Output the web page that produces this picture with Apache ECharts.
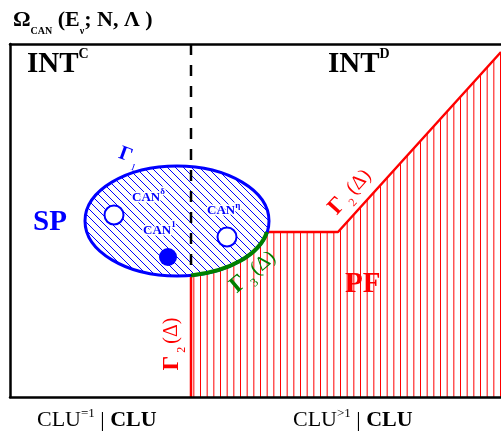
<!DOCTYPE html>
<html>
<head>
<meta charset="utf-8">
<script src="https://cdn.jsdelivr.net/npm/echarts@6/dist/echarts.min.js"></script>
<style>
html, body { margin: 0; padding: 0; background: #fff; }
#container { width: 501px; height: 433px; }
</style>
</head>
<body>
<div id="container"></div>
<script>
// diagram space: x 0..491, y 0..353 (y up)
const xMax = 491;
const yMax = 353;
const spEllipse = [167, 176, 92, 55];          // cx, cy, rx, ry
const pfRegion = [[181, 0], [181, 165], [328, 165], [491, 345], [491, 0]];
const gamma2Lower = [[181, 0], [181, 121.6]];
const gamma2Upper = [[257, 165], [328, 165], [491, 345]];
const gamma3Arc = [[181, 121.6], [257, 165]];
const divider = [[181, 353], [181, 121.6]];
const canOpen = [[104, 182], [217, 160]];
const canFilled = [[158, 140]];

const FONT = 'Liberation Serif';
const RED = '#ff0000', BLUE = '#0000ff', GREEN = '#008000';

// hatch textures
function hatch(w, h, bg, color, draw) {
    let c = document.createElement('canvas');
    c.width = w; c.height = h;
    let ctx = c.getContext('2d');
    if (bg) { ctx.fillStyle = bg; ctx.fillRect(0, 0, w, h); }
    ctx.strokeStyle = color;
    ctx.lineWidth = 1;
    ctx.beginPath();
    draw(ctx, w, h);
    ctx.stroke();
    return { image: c, repeat: 'repeat' };
}
let redHatch = hatch(20, 4, null, RED, (ctx, w, h) => {
    [0.5, 7.17, 13.83].forEach(x => { ctx.moveTo(x, 0); ctx.lineTo(x, h); });
});
let blueHatch = hatch(8, 8, '#fff', BLUE, (ctx, w, h) => {
    for (let k = -1; k <= 1; k++) { ctx.moveTo(k * w, 0); ctx.lineTo(k * w + w, h); }
});

let dom = document.getElementById('container');
let myChart = echarts.init(dom);

let frameAxis = {
    type: 'value', min: 0, z: 10,
    axisLine: { show: true, onZero: false, lineStyle: { color: '#000', width: 2.5 } },
    axisTick: { show: false }, axisLabel: { show: false }, splitLine: { show: false }
};

function txt(x, y, text, rich, fill, rotation, align) {
    return {
        type: 'text', x: x, y: y, rotation: rotation || 0, z: 100,
        style: { text: text, rich: rich, fill: fill, align: align || 'center', verticalAlign: 'middle' }
    };
}
function canRich() {
    return {
        c: { fontFamily: FONT, fontWeight: 'bold', fontSize: 13, lineHeight: 20, fill: BLUE },
        u: { fontFamily: FONT, fontWeight: 'bold', fontSize: 9, lineHeight: 9, verticalAlign: 'top', fill: BLUE }
    };
}
function gammaRich(color, gsize, size, sub) {
    return {
        G: { fontFamily: FONT, fontWeight: 'bold', fontSize: gsize, lineHeight: size + 11, fill: color },
        g: { fontFamily: FONT, fontSize: size, lineHeight: size + 11, fill: color },
        s: { fontFamily: FONT, fontSize: sub, lineHeight: sub, verticalAlign: 'bottom', fill: color }
    };
}
let halo = { stroke: '#fff', lineWidth: 3 };

let option = {
    animation: false,
    grid: { left: 10, top: 44, right: 0, bottom: 36 },
    xAxis: [
        Object.assign({}, frameAxis, { max: xMax, position: 'bottom' }),
        Object.assign({}, frameAxis, { max: xMax, position: 'top' })
    ],
    yAxis: Object.assign({}, frameAxis, { max: yMax }),
    series: [
        {   // PF region, red vertical hatch
            type: 'custom', z: 1, silent: true,
            data: [[0, 0]],
            renderItem: function (params, api) {
                return {
                    type: 'polygon',
                    shape: { points: pfRegion.map(p => api.coord(p)) },
                    style: { fill: redHatch, stroke: null }
                };
            }
        },
        {   // red boundary Γ2(Δ)
            type: 'line', z: 3, symbol: 'none', data: gamma2Lower,
            lineStyle: { color: RED, width: 2.5 }
        },
        {
            type: 'line', z: 3, symbol: 'none', data: gamma2Upper,
            lineStyle: { color: RED, width: 2.5 }
        },
        {   // SP ellipse Γ1
            type: 'custom', z: 4, silent: true,
            data: [[0, 0]],
            renderItem: function (params, api) {
                let c = api.coord([spEllipse[0], spEllipse[1]]);
                let s = api.size([spEllipse[2], spEllipse[3]]);
                return {
                    type: 'ellipse',
                    shape: { cx: c[0], cy: c[1], rx: s[0], ry: s[1] },
                    style: { fill: blueHatch, stroke: BLUE, lineWidth: 3 }
                };
            }
        },
        {   // green arc Γ3(Δ)
            type: 'custom', z: 5, silent: true,
            data: [[0, 0]],
            renderItem: function (params, api) {
                let a = api.coord(gamma3Arc[0]);
                let b = api.coord(gamma3Arc[1]);
                let s = api.size([spEllipse[2], spEllipse[3]]);
                return {
                    type: 'path',
                    shape: { pathData: 'M' + a[0] + ' ' + a[1] + ' A' + s[0] + ' ' + s[1] + ' 0 0 0 ' + b[0] + ' ' + b[1] },
                    style: { fill: null, stroke: GREEN, lineWidth: 4 }
                };
            }
        },
        {   // dashed divider
            type: 'line', z: 6, symbol: 'none', data: divider,
            lineStyle: { color: '#000', width: 2.5, type: [11, 10] }
        },
        {
            type: 'scatter', z: 7, symbol: 'circle', symbolSize: 19, data: canOpen,
            itemStyle: { color: '#fff', borderColor: BLUE, borderWidth: 2, opacity: 1 }
        },
        {
            type: 'scatter', z: 7, symbol: 'circle', symbolSize: 18, data: canFilled,
            itemStyle: { color: BLUE, opacity: 1 }
        }
    ],
    graphic: [
        txt(13, 20.5, '{a|Ω}{s|CAN}{a| (E}{s|ν}{a|; N, Λ )}', {
            a: { fontFamily: FONT, fontWeight: 'bold', fontSize: 22, lineHeight: 32, fill: '#000' },
            s: { fontFamily: FONT, fontWeight: 'bold', fontSize: 10, lineHeight: 10, verticalAlign: 'bottom', fill: '#000' }
        }, '#000', 0, 'left'),
        txt(27, 65, '{a|INT}{u|C}', {
            a: { fontFamily: FONT, fontWeight: 'bold', fontSize: 29, lineHeight: 36, fill: '#000' },
            u: { fontFamily: FONT, fontWeight: 'bold', fontSize: 14, lineHeight: 14, verticalAlign: 'top', fill: '#000' }
        }, '#000', 0, 'left'),
        txt(328, 65, '{a|INT}{u|D}', {
            a: { fontFamily: FONT, fontWeight: 'bold', fontSize: 29, lineHeight: 36, fill: '#000' },
            u: { fontFamily: FONT, fontWeight: 'bold', fontSize: 14, lineHeight: 14, verticalAlign: 'top', fill: '#000' }
        }, '#000', 0, 'left'),
        txt(33, 223, '{a|SP}', { a: { fontFamily: FONT, fontWeight: 'bold', fontSize: 29, fill: BLUE } }, BLUE, 0, 'left'),
        txt(345, 285, '{a|PF}', { a: { fontFamily: FONT, fontWeight: 'bold', fontSize: 29, fill: RED } }, RED, 0, 'left'),
        txt(132, 197.5, '{c|CAN}{u|δ}', canRich(), BLUE, 0, 'left'),
        txt(143, 230.5, '{c|CAN}{u|1}', canRich(), BLUE, 0, 'left'),
        txt(207, 211, '{c|CAN}{u|η}', canRich(), BLUE, 0, 'left'),
        txt(129, 156, '{G|Γ}{s| 1}', gammaRich(BLUE, 20, 18, 10), BLUE, -0.35),
        txt(172, 344, '{G|Γ}{s| 2 }{g|(Δ)}', gammaRich(RED, 23, 20, 12), RED, Math.PI / 2),
        txt(350, 192, '{G|Γ}{s| 2 }{g|(Δ)}', gammaRich(RED, 23, 20, 12), RED, 0.834),
        txt(253, 272, '{G|Γ}{s| 3 }{g|(Δ)}', gammaRich(GREEN, 23, 20, 12), GREEN, 0.7),
        txt(37, 420.5, '{a|CLU}{u|=1}{a| | }{b|CLU}', {
            a: { fontFamily: FONT, fontSize: 22, lineHeight: 27, fill: '#000' },
            b: { fontFamily: FONT, fontWeight: 'bold', fontSize: 22, lineHeight: 27, fill: '#000' },
            u: { fontFamily: FONT, fontSize: 13, lineHeight: 13, verticalAlign: 'top', fill: '#000' }
        }, '#000', 0, 'left'),
        txt(293, 420.5, '{a|CLU}{u|>1}{a| | }{b|CLU}', {
            a: { fontFamily: FONT, fontSize: 22, lineHeight: 27, fill: '#000' },
            b: { fontFamily: FONT, fontWeight: 'bold', fontSize: 22, lineHeight: 27, fill: '#000' },
            u: { fontFamily: FONT, fontSize: 13, lineHeight: 13, verticalAlign: 'top', fill: '#000' }
        }, '#000', 0, 'left')
    ]
};

// white halo round the CAN labels inside the hatched ellipse
[5, 6, 7].forEach(i => Object.assign(option.graphic[i].style, halo));

if (option && typeof option === 'object') {
    myChart.setOption(option, true);
}
</script>
</body>
</html>
